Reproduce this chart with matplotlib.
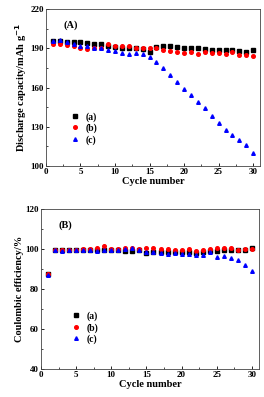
import numpy as np
import matplotlib.pyplot as plt
from matplotlib.ticker import MultipleLocator

plt.rcParams['font.family'] = ['Liberation Serif', 'DejaVu Serif']
plt.rcParams['font.weight'] = 'bold'

cycles = np.arange(1, 31)

cap_a = [195.5, 195.5, 195.0, 194.5, 194.5, 194.0, 193.5, 193.0, 192.0, 191.0,
         190.5, 190.0, 190.0, 189.5, 187.5, 191.0, 191.5, 191.5, 191.0, 190.5,
         190.0, 190.0, 189.5, 189.0, 189.0, 188.5, 188.5, 188.0, 187.5, 188.5]
cap_b = [193.5, 193.5, 192.5, 191.5, 190.0, 189.5, 190.5, 190.5, 193.0, 191.5,
         191.5, 191.5, 190.5, 190.5, 190.5, 190.0, 188.5, 188.0, 187.0, 186.5,
         187.0, 185.5, 187.0, 186.5, 186.5, 186.0, 187.0, 185.0, 185.0, 184.5]
cap_c = [195.5, 196.0, 195.0, 193.0, 192.0, 191.5, 190.5, 190.0, 188.5, 188.0,
         186.5, 186.0, 186.5, 185.5, 183.0, 179.3, 174.6, 169.3, 164.0, 158.6,
         154.0, 149.2, 144.3, 138.2, 132.6, 127.5, 123.7, 120.1, 115.8, 110.2]

ce_a = [87.2, 99.3, 99.2, 99.6, 99.4, 99.5, 99.6, 99.5, 99.4, 99.3,
        99.2, 98.8, 98.8, 99.2, 97.8, 98.5, 98.3, 98.2, 98.3, 98.2,
        98.2, 98.0, 98.3, 98.8, 99.0, 99.2, 99.5, 99.3, 99.5, 100.5]
ce_b = [87.2, 99.3, 99.3, 99.5, 99.6, 99.8, 100.0, 100.2, 101.3, 99.8,
        99.8, 100.5, 100.2, 99.8, 100.2, 100.2, 99.8, 99.8, 99.6, 99.6,
        99.8, 99.0, 99.3, 99.9, 100.2, 100.2, 100.4, 99.5, 99.8, 100.0]
ce_c = [87.0, 99.2, 99.1, 99.2, 99.3, 99.3, 99.2, 99.1, 99.2, 99.5,
        99.4, 99.8, 100.4, 99.6, 98.6, 98.3, 97.9, 97.5, 98.0, 97.6,
        97.6, 96.8, 96.8, 98.3, 95.8, 96.4, 95.5, 94.4, 92.0, 89.0]

labels = ['(a)', '(b)', '(c)']
colors = ['black', 'red', 'blue']
markers = ['s', 'o', '^']

fig = plt.figure(figsize=(2.64, 3.97), dpi=100)
ax1 = fig.add_axes([0.174, 0.582, 0.811, 0.395])
ax2 = fig.add_axes([0.155, 0.071, 0.826, 0.403])


def style(ax):
    ax.set_xlim(0, 31)
    ax.xaxis.set_major_locator(MultipleLocator(5))
    ax.xaxis.set_minor_locator(MultipleLocator(2.5))
    ax.tick_params(which='both', direction='in', labelsize=6.5, pad=1.5)
    ax.tick_params(which='major', length=2.5, width=0.6)
    ax.tick_params(which='minor', length=1.5, width=0.5)
    for s in ax.spines.values():
        s.set_linewidth(0.6)
        s.set_color('#444444')
    ax.set_xlabel('Cycle number', fontsize=7.5, fontweight='bold', labelpad=1)


for ys, lab, c, m in zip([cap_a, cap_b, cap_c], labels, colors, markers):
    ax1.plot(cycles, ys, linestyle='none', marker=m, color=c, markersize=2.6, label=lab)
ax1.set_ylim(100, 220)
ax1.set_yticks([100, 130, 160, 190, 220])
ax1.set_yticks([115, 145, 175, 205], minor=True)
style(ax1)
ax1.set_ylabel('Discharge capacity/mAh g$^{-1}$', fontsize=7.5, fontweight='bold', labelpad=1)
ax1.text(0.08, 0.88, '(A)', transform=ax1.transAxes, fontsize=7.5, fontweight='bold')
ax1.legend(loc='lower left', bbox_to_anchor=(0.07, 0.08), frameon=False, fontsize=7,
           handletextpad=0.6, labelspacing=0.2, numpoints=1, handlelength=1.0)

for ys, lab, c, m in zip([ce_a, ce_b, ce_c], labels, colors, markers):
    ax2.plot(cycles, ys, linestyle='none', marker=m, color=c, markersize=2.6, label=lab)
ax2.set_ylim(40, 120)
ax2.yaxis.set_major_locator(MultipleLocator(20))
ax2.yaxis.set_minor_locator(MultipleLocator(10))
style(ax2)
ax2.set_ylabel('Coulombic efficiency/%', fontsize=7.5, fontweight='bold', labelpad=1)
ax2.text(0.08, 0.88, '(B)', transform=ax2.transAxes, fontsize=7.5, fontweight='bold')
ax2.legend(loc='lower left', bbox_to_anchor=(0.1, 0.1), frameon=False, fontsize=7,
           handletextpad=0.6, labelspacing=0.2, numpoints=1, handlelength=1.0)

fig.savefig('out.png', dpi=100)
